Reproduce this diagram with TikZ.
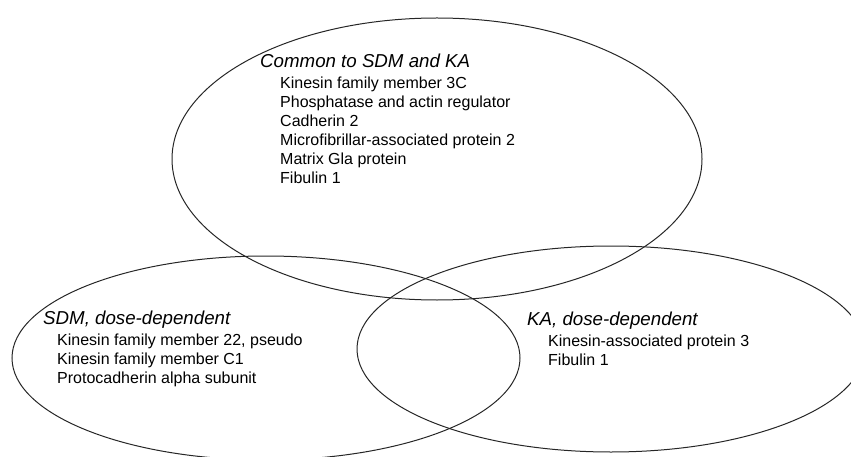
\documentclass[tikz,border=0pt]{standalone}
\usepackage{fontspec}
\setmainfont{Liberation Sans}
\begin{document}
\begin{tikzpicture}[x=1pt,y=-1pt,
  venn/.style={line width=1pt, draw=black!85},
  head/.style={anchor=base west, inner sep=0pt, font=\fontsize{18.7}{22}\selectfont\itshape},
  item/.style={anchor=base west, inner sep=0pt, font=\fontsize{16}{19}\selectfont}]
\useasboundingbox (0,0) rectangle (851,457);
\begin{scope}
  \clip (0,0) rectangle (851,457);
  \draw[venn] (437,159) ellipse [x radius=265, y radius=141];
  \draw[venn] (266,358) ellipse [x radius=254, y radius=102];
  \draw[venn] (611,349) ellipse [x radius=254, y radius=103];
\end{scope}
% Common
\node[head] (ch) at (260,68) {Common to SDM and KA};
\node[item] (c1) at (280,89)  {Kinesin family member 3C};
\node[item] (c2) at (280,108) {Phosphatase and actin regulator};
\node[item] (c3) at (280,127) {Cadherin 2};
\node[item] (c4) at (280,146) {Microfibrillar-associated protein 2};
\node[item] (c5) at (280,165) {Matrix Gla protein};
\node[item] (c6) at (280,184) {Fibulin 1};
% SDM
\node[head] (sh) at (43,324) {SDM, dose-dependent};
\node[item] (s1) at (57,345) {Kinesin family member 22, pseudo};
\node[item] (s2) at (57,364) {Kinesin family member C1};
\node[item] (s3) at (57,383) {Protocadherin alpha subunit};
% KA
\node[head] (kh) at (527,325) {KA, dose-dependent};
\node[item] (k1) at (548,346) {Kinesin-associated protein 3};
\node[item] (k2) at (548,365) {Fibulin 1};
\end{tikzpicture}
\end{document}
